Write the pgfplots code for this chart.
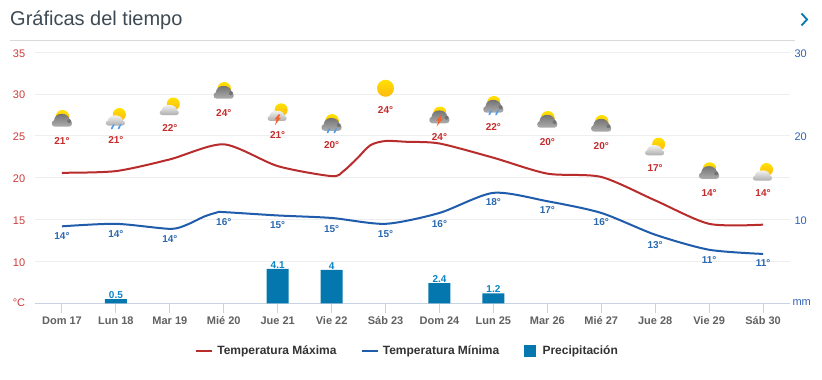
\documentclass[border=0pt]{standalone}
\usepackage{pgfplots}
\usepackage{pgfplotstable}
\pgfplotsset{compat=1.18}
\usepackage{fontspec}
\setmainfont{Liberation Sans}
\definecolor{cmax}{HTML}{B92C2C}
\definecolor{cmin}{HTML}{1F5CAB}
\definecolor{lmax}{HTML}{C62B2B}
\definecolor{lmin}{HTML}{2A69B0}
\definecolor{cbar}{HTML}{0478AE}
\definecolor{lbar}{HTML}{0A85C8}
\definecolor{gridc}{HTML}{EEEEEE}
\definecolor{axc}{HTML}{C8D2E2}
\definecolor{tickred}{HTML}{CC3B3B}
\definecolor{tickblue}{HTML}{2F62B4}
\definecolor{sunA}{HTML}{FFE100}
\definecolor{sunB}{HTML}{FDB813}
\definecolor{titlec}{HTML}{3E4A54}
\definecolor{dropc}{HTML}{4A9CF0}
\definecolor{boltc}{HTML}{F4632A}
\pgfplotstableread{
x y
0 20.6
1 20.8
2 22.2
3 24.0
4 21.4
5 20.2
5.22 20.8
5.47 22.3
5.72 23.9
6 24.4
6.4 24.3
7 24.1
8 22.4
9 20.5
10 20.1
11 17.3
12 14.5
13 14.4
}\tmax
\pgfplotstableread{
x y
0 14.2
1 14.5
2 13.9
2.32 14.4
2.63 15.35
2.87 15.85
3 15.9
4 15.5
5 15.2
6 14.5
7 15.8
8 18.2
9 17.2
10 15.8
11 13.2
12 11.4
13 10.9
}\tmin
\pgfplotstableread{
x y
1 0.5
4 4.1
5 4
7 2.4
8 1.2
}\precip
\pgfplotstableread{
x y label
0 24.4 21°
1 24.5 21°
2 25.95 22°
3 27.75 24°
4 25.1 21°
5 23.9 20°
6 28.1 24°
7 24.9 24°
8 26.1 22°
9 24.3 20°
10 23.8 20°
11 21.2 17°
12 18.2 14°
13 18.2 14°
}\lmaxt
\pgfplotstableread{
x y label
0 13.0 14°
1 13.3 14°
2 12.7 14°
3 14.7 16°
4 14.3 15°
5 13.9 15°
6 13.3 15°
7 14.5 16°
8 17.05 18°
9 16.1 17°
10 14.7 16°
11 12.0 13°
12 10.2 11°
13 9.8 11°
}\lmint
% icon parts
\newcommand{\sunat}[3]{\shade[top color=sunA,bottom color=sunB] (#1,#2) circle (#3);}
\newcommand{\cloudpath}{(-7,-8.2) -- (7,-8.2) .. controls (10.8,-8.2) and (10.8,-2.5) .. (8,-2)
  .. controls (7.5,2) and (4,4.8) .. (0,4.6) .. controls (-4,4.8) and (-7.5,2.5) .. (-8,-2)
  .. controls (-11,-2.5) and (-11,-8.2) .. (-7,-8.2) -- cycle}
\newcommand{\onedrop}[1]{\fill[dropc,shift={(#1,0)}] (0,-5.8) -- (1.4,-5.8) -- (-0.6,-10.2) .. controls (-1.6,-11.6) and (-2.9,-10.6) .. (-2.2,-9.4) -- cycle;}
\newcommand{\drops}{\onedrop{-2.6}\onedrop{4.2}}
\newcommand{\bolt}{\fill[boltc] (1,-0.5) -- (-3.2,-5.5) -- (-1,-5.5) -- (-2.8,-11.5) -- (3.2,-3.8) -- (0.8,-3.8) -- (2.8,-0.5) -- cycle;}
\newcommand{\greycloud}{\sunat{0.5}{1.7}{6.8}
  \shade[top color=black!55,bottom color=black!32] \cloudpath;
  \fill[black!55] (7.2,-2.6) circle (2);}
\newcommand{\whitecloud}{\sunat{3.5}{4}{6.5}
  \begin{scope}[xshift=-0.5pt,yshift=-0.6pt,xscale=0.95,yscale=0.8]
  \shade[top color=black!5,bottom color=black!32] \cloudpath;
  \end{scope}}
\newcommand{\iconbase}[1]{\tikz[x=1pt,y=1pt,baseline=(current bounding box.center)]{\path[use as bounding box] (-12,-12) rectangle (12,12); #1}}
\newcommand{\icon}[3]{\node[inner sep=0pt,outer sep=0pt] at (axis cs:#1,#2) {\iconbase{#3}};}
\begin{document}
\begin{tikzpicture}[x=1pt,y=1pt]
\path[use as bounding box,fill=white] (0,0) rectangle (822,380);
\begin{axis}[
  at={(35pt,76.7pt)},anchor=south west,scale only axis,
  width=755pt,height=251pt,
  xmin=-0.5,xmax=13.5,ymin=5,ymax=35,
  axis x line*=bottom,axis y line*=left,
  y axis line style={draw=none},
  x axis line style={draw=axc,line width=1pt,-},
  ytick={5,10,...,35},
  yticklabels={\raisebox{3pt}{°C},10,15,20,25,30,35},
  xtick={0,...,13},
  xticklabels={Dom 17,Lun 18,Mar 19,Mié 20,Jue 21,Vie 22,Sáb 23,Dom 24,Lun 25,Mar 26,Mié 27,Jue 28,Vie 29,Sáb 30},
  tick align=outside,
  major tick length=10pt,
  xtick style={draw=axc,line width=1pt},
  ytick style={draw=none},
  ymajorgrids,
  grid style={draw=gridc,line width=1pt},
  yticklabel style={font=\fontsize{11}{13}\selectfont,text=tickred,anchor=east,xshift=3.7pt,yshift=-1pt},
  xticklabel style={font=\fontsize{11}{13}\selectfont\bfseries,text=black!62,yshift=0.4pt},
  clip=false,
  /pgf/number format/assume math mode=true,
]
\addplot[draw=cmax,line width=2pt,smooth,tension=0.45,no marks] table[x=x,y=y] {\tmax};
\addplot[draw=cmin,line width=2pt,smooth,tension=0.45,no marks] table[x=x,y=y] {\tmin};
\addplot[draw=none,no marks,point meta=explicit symbolic,nodes near coords,
  every node near coord/.append style={anchor=center,inner sep=0pt,text=lmax,font=\fontsize{10}{12}\selectfont\bfseries}]
  table[x=x,y=y,meta=label] {\lmaxt};
\addplot[draw=none,no marks,point meta=explicit symbolic,nodes near coords,
  every node near coord/.append style={anchor=center,inner sep=0pt,text=lmin,font=\fontsize{10}{12}\selectfont\bfseries}]
  table[x=x,y=y,meta=label] {\lmint};
\icon{0}{27.09}{\greycloud}
\icon{1}{27.09}{\whitecloud\drops}
\icon{2}{28.34}{\whitecloud}
\icon{3}{30.43}{\greycloud}
\icon{4}{27.65}{\whitecloud\bolt}
\icon{5}{26.6}{\greycloud\drops}
\icon{6}{30.7}{\sunat{0}{0}{8.5}}
\icon{7}{27.5}{\greycloud\bolt}
\icon{8}{28.76}{\greycloud\drops}
\icon{9}{26.97}{\greycloud}
\icon{10}{26.49}{\greycloud}
\icon{11}{23.54}{\whitecloud}
\icon{12}{20.84}{\greycloud}
\icon{13}{20.51}{\whitecloud}
\end{axis}
\begin{axis}[
  at={(35pt,76.7pt)},anchor=south west,scale only axis,
  width=755pt,height=251pt,
  xmin=-0.5,xmax=13.5,ymin=0,ymax=30,
  axis x line=none,axis y line*=right,
  y axis line style={draw=none},
  ytick={0,10,20,30},
  yticklabels={\hspace*{-2pt}\raisebox{3pt}{mm},10,20,30},
  ytick style={draw=none},
  yticklabel style={font=\fontsize{11}{13}\selectfont,text=tickblue,anchor=west,xshift=1pt,yshift=-1pt},
  clip=false,
  /pgf/number format/assume math mode=true,
  legend columns=3,
  legend cell align=left,
  legend style={at={(0.4934,-0.19)},anchor=center,draw=none,fill=none,inner sep=0pt,
    font=\fontsize{12}{14}\selectfont\bfseries,text=black!80,
    /tikz/every even column/.append style={column sep=22.2pt}},
]
\addlegendimage{legend image code/.code={\draw[cmax,line width=2pt] (0pt,0pt) -- (16pt,0pt);\path (19pt,0pt);}}
\addlegendentry{Temperatura Máxima}
\addlegendimage{legend image code/.code={\draw[cmin,line width=2pt] (0pt,0pt) -- (16pt,0pt);\path (19pt,0pt);}}
\addlegendentry{Temperatura Mínima}
\addplot[ybar,bar width=22pt,fill=cbar,draw=none,
  legend image code/.code={\fill[cbar] (0pt,-6pt) rectangle (12pt,6pt);\path (17pt,0pt);},
  nodes near coords,
  every node near coord/.append style={anchor=south,inner sep=0pt,yshift=0.5pt,text=lbar,font=\fontsize{10}{12}\selectfont\bfseries},
  ] table[x=x,y=y] {\precip};
\addlegendentry{Precipitación}
\end{axis}
\node[anchor=base west,inner sep=0pt,text=titlec,font=\fontsize{20}{24}\selectfont] at (10,354) {Gráficas del tiempo};
\draw[black!15,line width=1pt] (10,339) -- (795,339);
\draw[cbar,line width=1.8pt] (801.5,366.5) -- (807,360.5) -- (801.5,354.5);
\end{tikzpicture}
\end{document}
